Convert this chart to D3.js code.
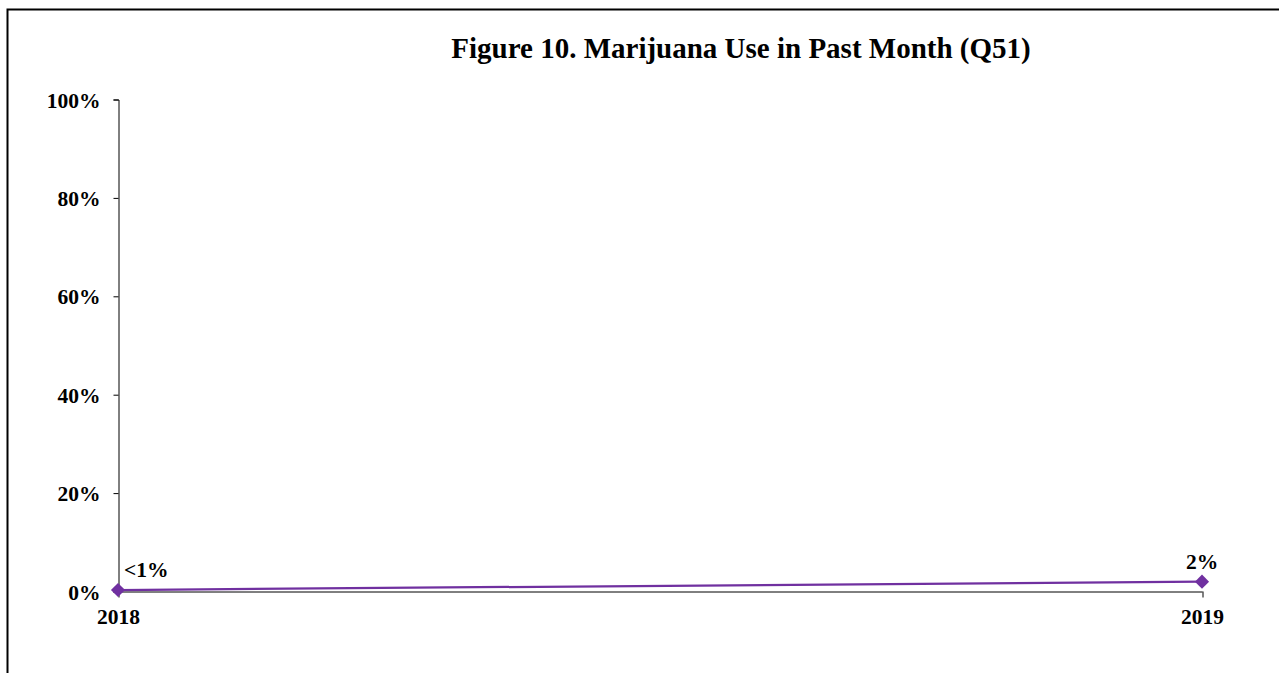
<!DOCTYPE html>
<html>
<head>
<meta charset="utf-8">
<script src="https://cdn.jsdelivr.net/npm/d3@7"></script>
<style>
  html, body { margin: 0; padding: 0; background: #fff; }
  svg { display: block; }
  text { font-family: "Liberation Serif", "Times New Roman", serif; font-weight: bold; fill: #000; }
</style>
</head>
<body>
<script>
// Survey years and past-month marijuana use (percent of respondents)
const years = ["2018", "2019"];
const usePct = [0.3, 2];
const pointLabels = ["<1%", "2%"];
const yTicks = [0, 20, 40, 60, 80, 100];
const title = "Figure 10. Marijuana Use in Past Month (Q51)";

const W = 1279, H = 673;
const svg = d3.select("body").append("svg").attr("width", W).attr("height", H);

// outer frame
svg.append("rect")
  .attr("x", 7.5).attr("y", 9.5)
  .attr("width", W + 10).attr("height", H + 10)
  .attr("fill", "none").attr("stroke", "#000").attr("stroke-width", 2);

const x = d3.scalePoint().domain(years).range([118, 1202]);
const y = d3.scaleLinear().domain([0, 100]).range([591.5, 99.5]);

// y axis
const yAxis = svg.append("g").attr("transform", "translate(118.5,0)")
  .call(d3.axisLeft(y).tickValues(yTicks).tickFormat(d => d + "%").tickSize(5).tickPadding(13));
yAxis.select(".domain").attr("stroke", "#000");
yAxis.selectAll("text").style("font-size", "21.5px").attr("dy", "0.35em");

// x axis
const xAxis = svg.append("g").attr("transform", "translate(0,591.5)")
  .call(d3.axisBottom(x).tickSize(6).tickPadding(11).tickSizeOuter(0));
xAxis.select(".domain").attr("stroke", "#000");
xAxis.selectAll("line").attr("transform", "translate(0.5,0)");
xAxis.selectAll("text").style("font-size", "21.5px");

// title
svg.append("text")
  .attr("x", 741).attr("y", 58)
  .attr("text-anchor", "middle")
  .style("font-size", "29px")
  .text(title);

const pts = years.map((yr, i) => ({ yr, v: usePct[i], label: pointLabels[i] }));

// series line
svg.append("path")
  .datum(pts)
  .attr("fill", "none")
  .attr("stroke", "#7030A0")
  .attr("stroke-width", 2.25)
  .attr("d", d3.line().x(d => x(d.yr)).y(d => y(d.v)));

// diamond markers
svg.selectAll(".marker").data(pts).enter().append("path")
  .attr("class", "marker")
  .attr("transform", d => `translate(${x(d.yr)},${y(d.v)}) rotate(45)`)
  .attr("d", d3.symbol().type(d3.symbolSquare).size(100))
  .attr("fill", "#7030A0");

// value labels
svg.selectAll(".vlabel").data(pts).enter().append("text")
  .attr("class", "vlabel")
  .attr("x", (d, i) => i === 0 ? x(d.yr) + 6 : x(d.yr))
  .attr("y", d => y(d.v) - 13)
  .attr("text-anchor", (d, i) => i === 0 ? "start" : "middle")
  .style("font-size", "21.5px")
  .text(d => d.label);
</script>
</body>
</html>
